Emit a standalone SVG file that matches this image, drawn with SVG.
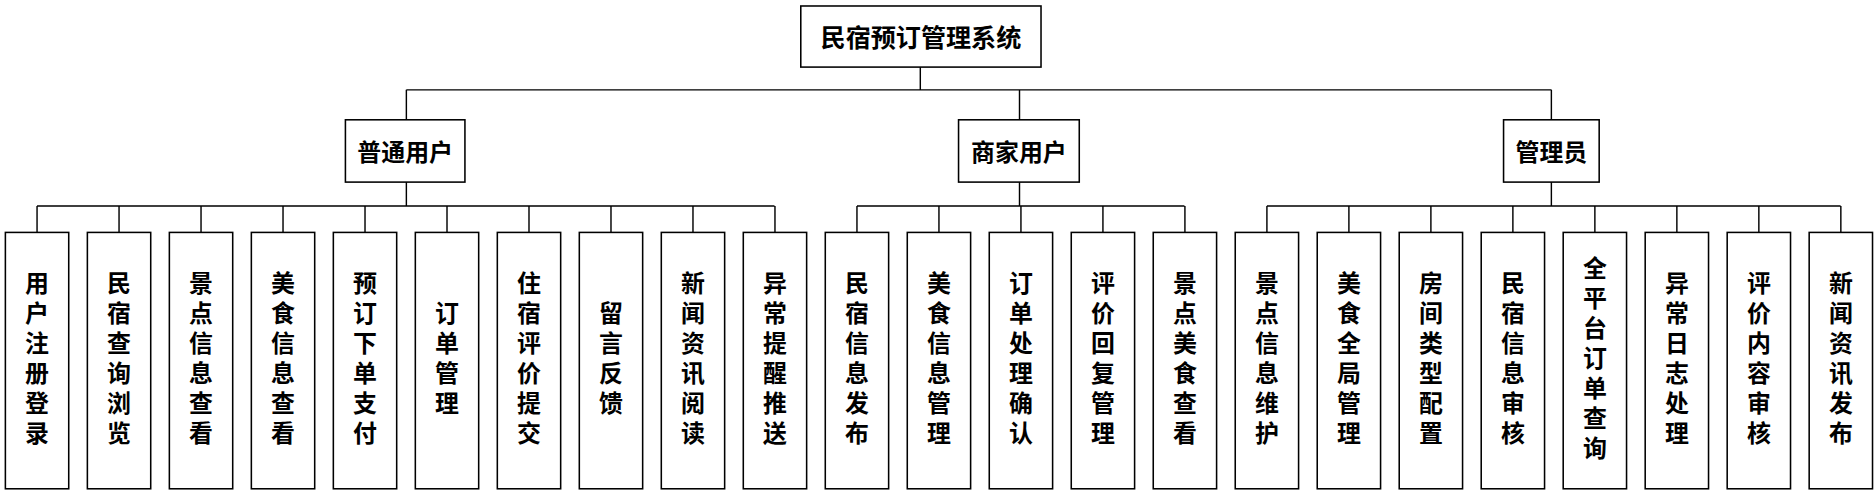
<svg xmlns="http://www.w3.org/2000/svg" width="1874" height="496" viewBox="0 0 1874 496">
<style>
.b{fill:#fff;stroke:#000;stroke-width:1.3}
.t{font-family:"Noto Sans CJK SC","Noto Sans CJK JP",sans-serif;font-weight:bold;font-size:20px;fill:#000;text-anchor:middle;dominant-baseline:central}
.v{writing-mode:vertical-rl;letter-spacing:5px}
.c{fill:none;stroke:#000;stroke-width:1.2}
</style>
<rect width="1874" height="496" fill="#fff"/>
<g transform="scale(1.1952,1.198)">
<g id="connectors" class="c">
<path d="M770 56V75M340 75H1298M340 75V100M853 75V100M1298 75V100"/>
<path d="M340 152V172M31 172H648M31 172V194M99.6 172V194M168.2 172V194M236.8 172V194M305.4 172V194M374 172V194M442.6 172V194M511.2 172V194M579.8 172V194M648.4 172V194"/>
<path d="M853 152V172M717 172H991M717 172V194M785.6 172V194M854.2 172V194M922.8 172V194M991.4 172V194"/>
<path d="M1298 152V172M1060 172H1540M1060 172V194M1128.6 172V194M1197.2 172V194M1265.8 172V194M1334.4 172V194M1403 172V194M1471.6 172V194M1540.2 172V194"/>
</g>
<g id="root"><rect class="b" x="670" y="5" width="201" height="51"/><text class="t" x="770.5" y="30" style="font-size:21px">民宿预订管理系统</text></g>
<g id="n1"><rect class="b" x="289" y="100" width="100" height="52"/><text class="t" x="339" y="126">普通用户</text></g>
<g id="n2"><rect class="b" x="802" y="100" width="101" height="52"/><text class="t" x="852.5" y="126">商家用户</text></g>
<g id="n3"><rect class="b" x="1258" y="100" width="80" height="52"/><text class="t" x="1298" y="126">管理员</text></g>
<g id="l1"><rect class="b" x="4.5" y="194" width="53" height="214"/><text class="t v" x="31" y="301">用户注册登录</text></g>
<g id="l2"><rect class="b" x="73.1" y="194" width="53" height="214"/><text class="t v" x="99.6" y="301">民宿查询浏览</text></g>
<g id="l3"><rect class="b" x="141.7" y="194" width="53" height="214"/><text class="t v" x="168.2" y="301">景点信息查看</text></g>
<g id="l4"><rect class="b" x="210.3" y="194" width="53" height="214"/><text class="t v" x="236.8" y="301">美食信息查看</text></g>
<g id="l5"><rect class="b" x="278.9" y="194" width="53" height="214"/><text class="t v" x="305.4" y="301">预订下单支付</text></g>
<g id="l6"><rect class="b" x="347.5" y="194" width="53" height="214"/><text class="t v" x="374" y="301">订单管理</text></g>
<g id="l7"><rect class="b" x="416.1" y="194" width="53" height="214"/><text class="t v" x="442.6" y="301">住宿评价提交</text></g>
<g id="l8"><rect class="b" x="484.7" y="194" width="53" height="214"/><text class="t v" x="511.2" y="301">留言反馈</text></g>
<g id="l9"><rect class="b" x="553.3" y="194" width="53" height="214"/><text class="t v" x="579.8" y="301">新闻资讯阅读</text></g>
<g id="l10"><rect class="b" x="621.9" y="194" width="53" height="214"/><text class="t v" x="648.4" y="301">异常提醒推送</text></g>
<g id="l11"><rect class="b" x="690.5" y="194" width="53" height="214"/><text class="t v" x="717" y="301">民宿信息发布</text></g>
<g id="l12"><rect class="b" x="759.1" y="194" width="53" height="214"/><text class="t v" x="785.6" y="301">美食信息管理</text></g>
<g id="l13"><rect class="b" x="827.7" y="194" width="53" height="214"/><text class="t v" x="854.2" y="301">订单处理确认</text></g>
<g id="l14"><rect class="b" x="896.3" y="194" width="53" height="214"/><text class="t v" x="922.8" y="301">评价回复管理</text></g>
<g id="l15"><rect class="b" x="964.9" y="194" width="53" height="214"/><text class="t v" x="991.4" y="301">景点美食查看</text></g>
<g id="l16"><rect class="b" x="1033.5" y="194" width="53" height="214"/><text class="t v" x="1060" y="301">景点信息维护</text></g>
<g id="l17"><rect class="b" x="1102.1" y="194" width="53" height="214"/><text class="t v" x="1128.6" y="301">美食全局管理</text></g>
<g id="l18"><rect class="b" x="1170.7" y="194" width="53" height="214"/><text class="t v" x="1197.2" y="301">房间类型配置</text></g>
<g id="l19"><rect class="b" x="1239.3" y="194" width="53" height="214"/><text class="t v" x="1265.8" y="301">民宿信息审核</text></g>
<g id="l20"><rect class="b" x="1307.9" y="194" width="53" height="214"/><text class="t v" x="1334.4" y="301">全平台订单查询</text></g>
<g id="l21"><rect class="b" x="1376.5" y="194" width="53" height="214"/><text class="t v" x="1403" y="301">异常日志处理</text></g>
<g id="l22"><rect class="b" x="1445.1" y="194" width="53" height="214"/><text class="t v" x="1471.6" y="301">评价内容审核</text></g>
<g id="l23"><rect class="b" x="1513.7" y="194" width="53" height="214"/><text class="t v" x="1540.2" y="301">新闻资讯发布</text></g>
</g>
</svg>
